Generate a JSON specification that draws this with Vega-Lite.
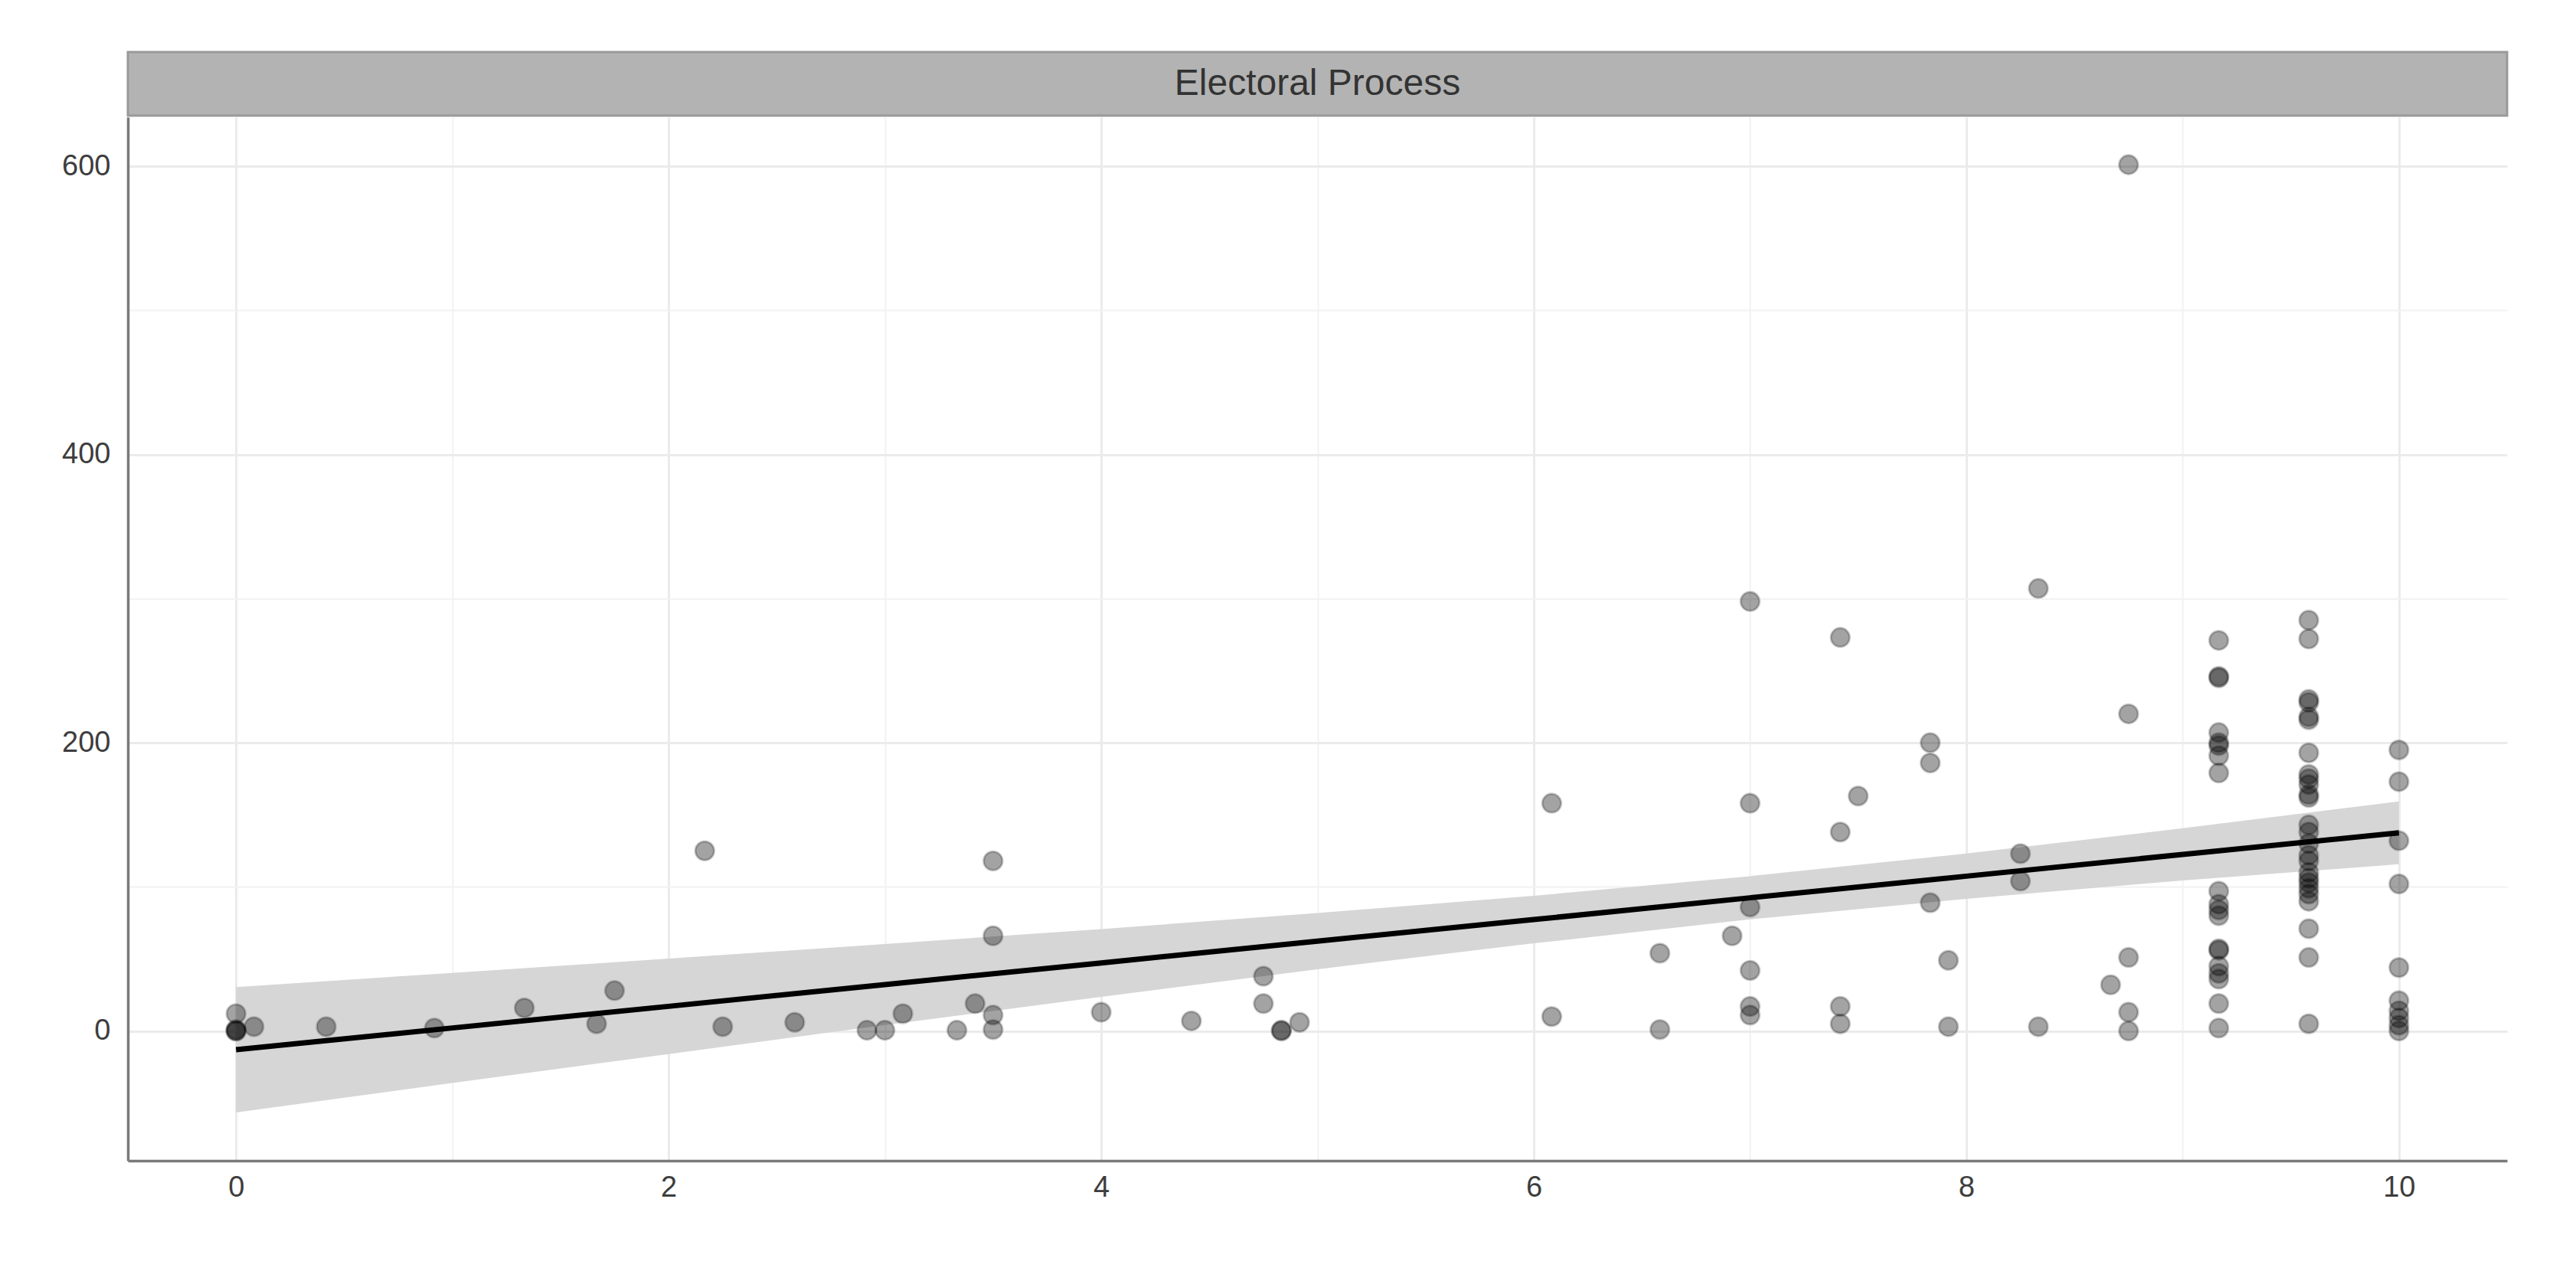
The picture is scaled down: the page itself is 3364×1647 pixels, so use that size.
{
  "$schema": "https://vega.github.io/schema/vega-lite/v6.json",
  "background": "white",
  "padding": {"left": 80, "top": 66, "right": 90, "bottom": 60},
  "spacing": 0,
  "config": {
    "view": {"stroke": null},
    "font": "Liberation Sans",
    "axis": {
      "title": null,
      "ticks": false,
      "tickSize": 0,
      "labelFont": "Liberation Sans",
      "labelFontSize": 38,
      "labelColor": "#3d3d3d",
      "domainColor": "#7a7a7a",
      "domainWidth": 3.5
    }
  },
  "datasets": {
    "points": [
      {"score": 0, "value": 12}, {"score": 0, "value": 1}, {"score": 0, "value": 0}, {"score": 0, "value": 0},
      {"score": 0.083, "value": 3},
      {"score": 0.417, "value": 3},
      {"score": 0.917, "value": 2},
      {"score": 1.333, "value": 16},
      {"score": 1.667, "value": 5},
      {"score": 1.75, "value": 28},
      {"score": 2.167, "value": 125},
      {"score": 2.25, "value": 3},
      {"score": 2.583, "value": 6},
      {"score": 2.917, "value": 0.5},
      {"score": 3.0, "value": 0.5},
      {"score": 3.083, "value": 12},
      {"score": 3.333, "value": 0.5},
      {"score": 3.417, "value": 19},
      {"score": 3.5, "value": 118}, {"score": 3.5, "value": 66}, {"score": 3.5, "value": 11}, {"score": 3.5, "value": 1},
      {"score": 4.0, "value": 13},
      {"score": 4.417, "value": 7},
      {"score": 4.75, "value": 38}, {"score": 4.75, "value": 19},
      {"score": 4.833, "value": 0}, {"score": 4.833, "value": 0.5},
      {"score": 4.917, "value": 6},
      {"score": 6.083, "value": 158}, {"score": 6.083, "value": 10},
      {"score": 6.583, "value": 54}, {"score": 6.583, "value": 1},
      {"score": 6.917, "value": 66},
      {"score": 7.0, "value": 298}, {"score": 7.0, "value": 158}, {"score": 7.0, "value": 86}, {"score": 7.0, "value": 42}, {"score": 7.0, "value": 17}, {"score": 7.0, "value": 11},
      {"score": 7.417, "value": 273}, {"score": 7.417, "value": 138}, {"score": 7.417, "value": 17}, {"score": 7.417, "value": 5},
      {"score": 7.5, "value": 163},
      {"score": 7.833, "value": 200}, {"score": 7.833, "value": 186}, {"score": 7.833, "value": 89},
      {"score": 7.917, "value": 49}, {"score": 7.917, "value": 3},
      {"score": 8.25, "value": 123}, {"score": 8.25, "value": 104},
      {"score": 8.333, "value": 307}, {"score": 8.333, "value": 3},
      {"score": 8.667, "value": 32},
      {"score": 8.75, "value": 601}, {"score": 8.75, "value": 220}, {"score": 8.75, "value": 51}, {"score": 8.75, "value": 13}, {"score": 8.75, "value": 0},
      {"score": 9.167, "value": 271}, {"score": 9.167, "value": 246}, {"score": 9.167, "value": 245}, {"score": 9.167, "value": 207},
      {"score": 9.167, "value": 200}, {"score": 9.167, "value": 198}, {"score": 9.167, "value": 191}, {"score": 9.167, "value": 179},
      {"score": 9.167, "value": 97}, {"score": 9.167, "value": 88}, {"score": 9.167, "value": 84}, {"score": 9.167, "value": 80},
      {"score": 9.167, "value": 57}, {"score": 9.167, "value": 56}, {"score": 9.167, "value": 45}, {"score": 9.167, "value": 40},
      {"score": 9.167, "value": 36}, {"score": 9.167, "value": 19}, {"score": 9.167, "value": 2},
      {"score": 9.583, "value": 285}, {"score": 9.583, "value": 272}, {"score": 9.583, "value": 230}, {"score": 9.583, "value": 228},
      {"score": 9.583, "value": 218}, {"score": 9.583, "value": 216}, {"score": 9.583, "value": 193}, {"score": 9.583, "value": 178},
      {"score": 9.583, "value": 175}, {"score": 9.583, "value": 171}, {"score": 9.583, "value": 164}, {"score": 9.583, "value": 162},
      {"score": 9.583, "value": 143}, {"score": 9.583, "value": 138}, {"score": 9.583, "value": 130}, {"score": 9.583, "value": 122},
      {"score": 9.583, "value": 118}, {"score": 9.583, "value": 110}, {"score": 9.583, "value": 106}, {"score": 9.583, "value": 103},
      {"score": 9.583, "value": 99}, {"score": 9.583, "value": 95}, {"score": 9.583, "value": 90}, {"score": 9.583, "value": 71},
      {"score": 9.583, "value": 51}, {"score": 9.583, "value": 5},
      {"score": 10, "value": 195}, {"score": 10, "value": 173}, {"score": 10, "value": 132}, {"score": 10, "value": 102},
      {"score": 10, "value": 44}, {"score": 10, "value": 21}, {"score": 10, "value": 14}, {"score": 10, "value": 9},
      {"score": 10, "value": 4}, {"score": 10, "value": 0}
    ],
    "fit": [
      {"score": 0, "fit": -13, "lo": -56.5, "hi": 30.5},
      {"score": 1, "fit": 2.1, "lo": -36.1, "hi": 40.3},
      {"score": 2, "fit": 17.1, "lo": -16, "hi": 50.2},
      {"score": 3, "fit": 32.2, "lo": 4.1, "hi": 60.3},
      {"score": 4, "fit": 47.2, "lo": 23.7, "hi": 70.7},
      {"score": 5, "fit": 62.3, "lo": 42.8, "hi": 81.8},
      {"score": 6, "fit": 77.3, "lo": 60.8, "hi": 93.8},
      {"score": 7, "fit": 92.4, "lo": 77.4, "hi": 107.4},
      {"score": 8, "fit": 107.4, "lo": 91.7, "hi": 123.1},
      {"score": 9, "fit": 122.5, "lo": 104.4, "hi": 140.6},
      {"score": 10, "fit": 137.5, "lo": 115.7, "hi": 159.3}
    ]
  },
  "vconcat": [
    {
      "width": 3107,
      "height": 83,
      "view": {"fill": "#b3b3b3", "stroke": "#999999", "strokeWidth": 3},
      "data": {"values": [{"panel": "Electoral Process"}]},
      "mark": {
        "type": "text",
        "font": "Liberation Sans",
        "fontSize": 48,
        "color": "#333333",
        "align": "center",
        "baseline": "middle"
      },
      "encoding": {"text": {"field": "panel"}}
    },
    {
      "width": 3107,
      "height": 1363,
      "layer": [
        {
          "data": {"name": "fit"},
          "mark": {"type": "area", "color": "#d6d6d6", "opacity": 1},
          "encoding": {
            "x": {
              "field": "score",
              "type": "quantitative",
              "scale": {"domain": [-0.5, 10.5], "nice": false, "zero": false},
              "axis": {
                "values": [0, 1, 2, 3, 4, 5, 6, 7, 8, 9, 10],
                "format": "d",
                "labelExpr": "datum.value % 2 === 0 ? datum.label : ''",
                "labelPadding": 16,
                "gridColor": {"condition": {"test": "datum.value % 2 === 0", "value": "#ebebeb"}, "value": "#f2f2f2"},
                "gridWidth": {"condition": {"test": "datum.value % 2 === 0", "value": 3}, "value": 2}
              }
            },
            "y": {
              "field": "lo",
              "type": "quantitative",
              "scale": {"domain": [-90, 634], "nice": false, "zero": false},
              "axis": {
                "values": [0, 100, 200, 300, 400, 500, 600],
                "format": "d",
                "labelExpr": "datum.value % 200 === 0 ? datum.label : ''",
                "labelPadding": 23,
                "gridColor": {"condition": {"test": "datum.value % 200 === 0", "value": "#ebebeb"}, "value": "#f2f2f2"},
                "gridWidth": {"condition": {"test": "datum.value % 200 === 0", "value": 3}, "value": 2}
              }
            },
            "y2": {"field": "hi"}
          }
        },
        {
          "data": {"name": "points"},
          "mark": {
            "type": "circle",
            "size": 600,
            "color": "black",
            "opacity": 1,
            "fillOpacity": 0.36,
            "stroke": "black",
            "strokeOpacity": 0.22,
            "strokeWidth": 3
          },
          "encoding": {
            "x": {"field": "score", "type": "quantitative"},
            "y": {"field": "value", "type": "quantitative"}
          }
        },
        {
          "data": {"name": "fit"},
          "mark": {"type": "line", "color": "black", "strokeWidth": 7},
          "encoding": {
            "x": {"field": "score", "type": "quantitative"},
            "y": {"field": "fit", "type": "quantitative"}
          }
        }
      ]
    }
  ]
}
